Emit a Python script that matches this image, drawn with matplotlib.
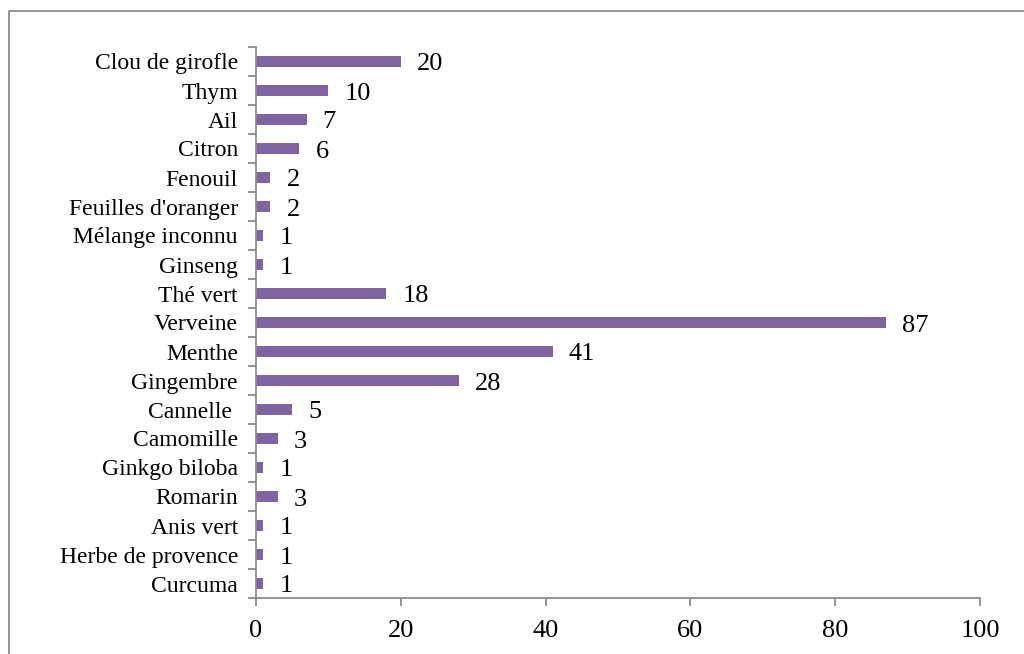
import matplotlib
matplotlib.use("Agg")
import matplotlib.pyplot as plt
from matplotlib.patches import Rectangle

plantes = ["Clou de girofle", "Thym", "Ail", "Citron", "Fenouil",
           "Feuilles d'oranger", "Mélange inconnu", "Ginseng", "Thé vert",
           "Verveine", "Menthe", "Gingembre", "Cannelle ", "Camomille",
           "Ginkgo biloba", "Romarin", "Anis vert", "Herbe de provence",
           "Curcuma"]
effectifs = [20, 10, 7, 6, 2, 2, 1, 1, 18, 87, 41, 28, 5, 3, 1, 3, 1, 1, 1]
graduations = [0, 20, 40, 60, 80, 100]

plt.rcParams["font.family"] = ["Liberation Serif", "DejaVu Serif"]

W, H = 1024, 654
fig = plt.figure(figsize=(W / 100, H / 100), dpi=100)
ax = fig.add_axes([256 / W, 1 - 598 / H, (980 - 256) / W, (598 - 47) / H])

# outer chart frame (open on the right and bottom)
fig.patches.append(Rectangle((9 / W, -0.1), 1.2, 1 - 11 / H + 0.1,
                             transform=fig.transFigure, fill=False,
                             edgecolor="#8c8c8c", linewidth=1.3))

pos = list(range(len(plantes)))[::-1]
bars = ax.barh(pos, effectifs, height=0.4, color="#8064A2")

for b, v in zip(bars, effectifs):
    ax.annotate(str(v), (b.get_width(), b.get_y() + b.get_height() / 2),
                xytext=(16, -3), textcoords="offset pixels",
                ha="left", va="center", fontsize=19, color="black")

ax.set_xlim(0, 100)
ax.set_ylim(-0.5, len(plantes) - 0.5)
ax.set_xticks(graduations)
ax.set_xticklabels([str(g) for g in graduations], fontsize=19)
ax.set_yticks(pos)
ax.set_yticklabels(plantes, fontsize=17)

# category boundary ticks on the y axis
ax.set_yticks([p - 0.5 for p in range(len(plantes) + 1)], minor=True)
ax.tick_params(axis="y", which="major", length=0, pad=13)
ax.tick_params(axis="y", which="minor", length=6, width=1.3, color="#8c8c8c")
ax.tick_params(axis="x", length=6, width=1.3, color="#8c8c8c", pad=10)

for s in ("top", "right"):
    ax.spines[s].set_visible(False)
for s in ("left", "bottom"):
    ax.spines[s].set_color("#8c8c8c")
    ax.spines[s].set_linewidth(1.3)

fig.savefig("out.png", dpi=100)
